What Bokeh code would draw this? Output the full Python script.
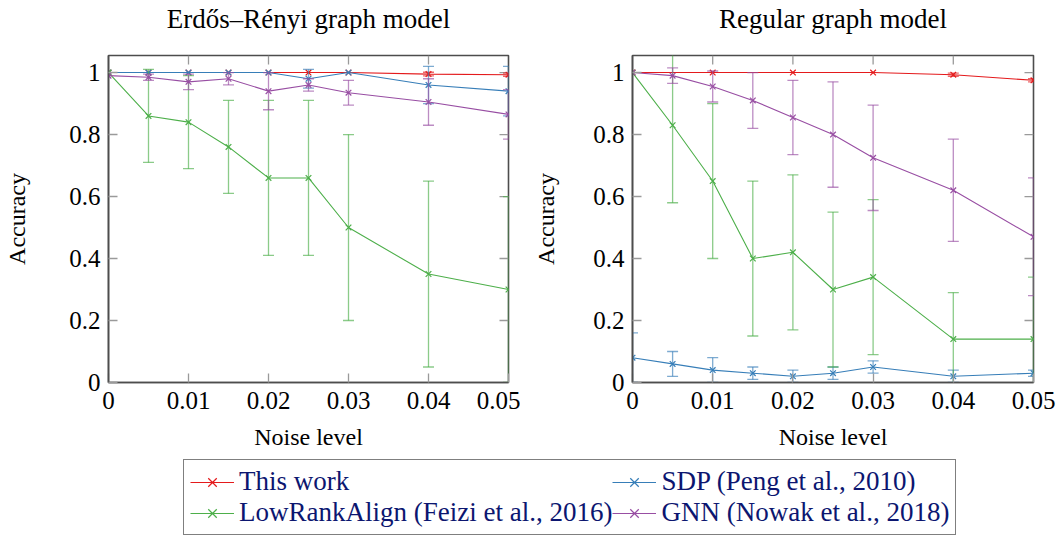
import math
from bokeh.plotting import figure
from bokeh.models import ColumnDataSource, FixedTicker, Legend, LegendItem, Range1d
from bokeh.core.properties import value
from bokeh.layouts import column, row
from bokeh.embed import file_html
from bokeh.resources import INLINE

# ---------------- data ----------------
titles = ["Erdős–Rényi graph model", "Regular graph model"]
noise = [0, 0.005, 0.01, 0.015, 0.02, 0.025, 0.03, 0.04, 0.05]

# Erdős–Rényi
er_this = [1.0, 1.0, 1.0, 1.0, 1.0, 1.0, 1.0, 0.995, 0.993]
er_this_err = [0, 0, 0, 0, 0, 0, 0, 0.006, 0.005]
er_sdp = [1.0, 1.0, 1.0, 1.0, 1.0, 0.98, 1.0, 0.96, 0.94]
er_sdp_err = [0, 0, 0, 0, 0, 0.03, 0, 0.06, 0.08]
er_lra = [1.0, 0.86, 0.84, 0.76, 0.66, 0.66, 0.50, 0.35, 0.30]
er_lra_err = [0, 0.15, 0.15, 0.15, 0.25, 0.25, 0.30, 0.30, 0.30]
er_gnn = [0.99, 0.985, 0.97, 0.98, 0.94, 0.96, 0.935, 0.905, 0.865]
er_gnn_err = [0, 0.01, 0.025, 0.02, 0.06, 0.02, 0.04, 0.075, 0.08]

# Regular
rg_this_noise = [0, 0.01, 0.02, 0.03, 0.04, 0.05]
rg_this = [1.0, 1.0, 1.0, 1.0, 0.993, 0.975]
rg_this_err = [0, 0, 0, 0, 0.005, 0.005]
rg_sdp = [0.08, 0.06, 0.04, 0.03, 0.02, 0.03, 0.05, 0.02, 0.03]
rg_sdp_err = [0.08, 0.04, 0.04, 0.02, 0.02, 0.02, 0.02, 0.02, 0.01]
rg_lra = [1.0, 0.83, 0.65, 0.40, 0.42, 0.30, 0.34, 0.14, 0.14]
rg_lra_err = [0, 0.25, 0.25, 0.25, 0.25, 0.25, 0.25, 0.15, 0.20]
rg_gnn = [1.0, 0.99, 0.955, 0.91, 0.855, 0.80, 0.725, 0.62, 0.47]
rg_gnn_err = [0, 0.025, 0.05, 0.09, 0.12, 0.17, 0.17, 0.165, 0.19]

x_ticks = [0, 0.01, 0.02, 0.03, 0.04, 0.05]
x_tick_labels = ["0", "0.01", "0.02", "0.03", "0.04", "0.05"]
y_ticks = [0, 0.2, 0.4, 0.6, 0.8, 1.0]
y_tick_labels = ["0", "0.2", "0.4", "0.6", "0.8", "1"]

labels = ["This work", "SDP (Peng et al., 2010)",
          "LowRankAlign (Feizi et al., 2016)", "GNN (Nowak et al., 2018)"]
colors = ["#e41a1c", "#377eb8", "#4daf4a", "#984ea3"]

X_END = 0.05
Y_END = 1.055

FONT = "'Liberation Serif'"
FS = "25px"
FRAME = "#4d4d4d"
TICK = "#9a9a9a"

# layout (pixels)
TITLE_H = 35
PANELS = [(108, 400, 12), (112, 401, 23)]   # left border, frame width, right border


def style_axis(ax, ticks, tick_labels):
    ax.ticker = FixedTicker(ticks=ticks)
    ax.major_label_overrides = {t: l for t, l in zip(ticks, tick_labels)}
    ax.major_tick_in = 9
    ax.major_tick_out = 0
    ax.minor_tick_line_color = None
    ax.major_tick_line_color = TICK
    ax.major_tick_line_width = 1.3
    ax.axis_line_color = FRAME
    ax.axis_line_width = 1.6
    ax.major_label_text_font = FONT
    ax.major_label_text_font_size = FS
    ax.major_label_text_color = "black"
    ax.axis_label_text_font = FONT
    ax.axis_label_text_font_style = "normal"
    ax.axis_label_text_font_size = "24px"
    ax.axis_label_text_color = "black"


def err_source(x, y, e):
    xs, lo, hi = [], [], []
    for xi, yi, ei in zip(x, y, e):
        if ei > 0:
            xs.append(xi)
            lo.append(yi - ei)
            hi.append(yi + ei)
    return ColumnDataSource(dict(x=xs, lo=lo, hi=hi))


def panel(series, bl, fw, br, ylab_standoff):
    p = figure(width=bl + fw + br, height=458 - TITLE_H,
               x_range=(0, X_END), y_range=(0, Y_END),
               output_backend="svg", toolbar_location=None,
               min_border_left=bl, min_border_right=br,
               min_border_top=55 - TITLE_H, min_border_bottom=76)
    p.grid.visible = False
    p.outline_line_color = FRAME
    p.outline_line_width = 1.6

    style_axis(p.xaxis[0], x_ticks, x_tick_labels)
    style_axis(p.yaxis[0], y_ticks, y_tick_labels)
    p.xaxis[0].major_label_standoff = 9
    p.yaxis[0].major_label_standoff = 8
    p.xaxis[0].axis_label = "Noise level"
    p.yaxis[0].axis_label = "Accuracy"
    p.xaxis[0].axis_label_standoff = 12
    p.yaxis[0].axis_label_standoff = ylab_standoff

    # inward ticks on the top and right sides of the frame
    p.ray(x=x_ticks[1:-1], y=[Y_END] * (len(x_ticks) - 2), length=9,
          length_units="screen", angle=-math.pi / 2,
          line_color=TICK, line_width=1.3)
    p.ray(x=[X_END] * (len(y_ticks) - 1), y=y_ticks[1:], length=9,
          length_units="screen", angle=math.pi,
          line_color=TICK, line_width=1.3)

    for (x, y, e), c in zip(series, colors):
        src = err_source(x, y, e)
        p.segment(x0="x", y0="lo", x1="x", y1="hi", source=src,
                  line_color=c, line_alpha=0.65, line_width=1.3)
        p.scatter(x="x", y="lo", source=src, marker="dash", size=11,
                  line_color=c, line_alpha=0.65, line_width=1.3)
        p.scatter(x="x", y="hi", source=src, marker="dash", size=11,
                  line_color=c, line_alpha=0.65, line_width=1.3)
        p.line(x, y, line_color=c, line_width=1.1)
        p.scatter(x, y, marker="x", size=8, line_color=c, line_width=1.2)
    return p


p1 = panel([(noise, er_this, er_this_err), (noise, er_sdp, er_sdp_err),
            (noise, er_lra, er_lra_err), (noise, er_gnn, er_gnn_err)],
           *PANELS[0], 36)
p2 = panel([(rg_this_noise, rg_this, rg_this_err), (noise, rg_sdp, rg_sdp_err),
            (noise, rg_lra, rg_lra_err), (noise, rg_gnn, rg_gnn_err)],
           *PANELS[1], 31)

# ---------------- titles strip ----------------
total_w = sum(a + b + c for a, b, c in PANELS)
tf = figure(width=total_w, height=TITLE_H, x_range=Range1d(0, total_w),
            y_range=Range1d(TITLE_H, 0), output_backend="svg",
            toolbar_location=None, min_border=0)
tf.axis.visible = False
tf.grid.visible = False
tf.outline_line_color = None
centers = []
off = 0
for bl, fw, br in PANELS:
    centers.append(off + bl + fw / 2)
    off += bl + fw + br
tf.text(x=centers, y=[18] * len(centers), text=titles,
        text_font=value(FONT), text_font_size="27px", text_color="black",
        text_align="center", text_baseline="middle")

# ---------------- legend ----------------
lf = figure(width=total_w, height=78, x_range=(0, 1), y_range=(0, 1),
            output_backend="svg", toolbar_location=None, min_border=0)
lf.axis.visible = False
lf.grid.visible = False
lf.outline_line_color = None
items = []
for lab, c in zip(labels, colors):
    # legend-only renderers, placed outside the visible range
    r1 = lf.line([5, 6], [5, 6], line_color=c, line_width=1.1)
    r2 = lf.scatter([5], [5], marker="x", size=8, line_color=c, line_width=1.2)
    items.append(LegendItem(label=lab, renderers=[r1, r2]))
leg = Legend(items=items, location=(183, 1), orientation="horizontal", ncols=2,
             label_text_font=FONT, label_text_font_size="27px",
             label_text_color="#0c1670", border_line_color="black",
             border_line_width=1.2, background_fill_alpha=1.0,
             glyph_width=44, glyph_height=30, label_height=30,
             label_standoff=5, spacing=0, padding=6, margin=0)
lf.add_layout(leg, "center")

layout = column(tf, row(p1, p2), lf)
open("out.html", "w").write(file_html(layout, INLINE))
